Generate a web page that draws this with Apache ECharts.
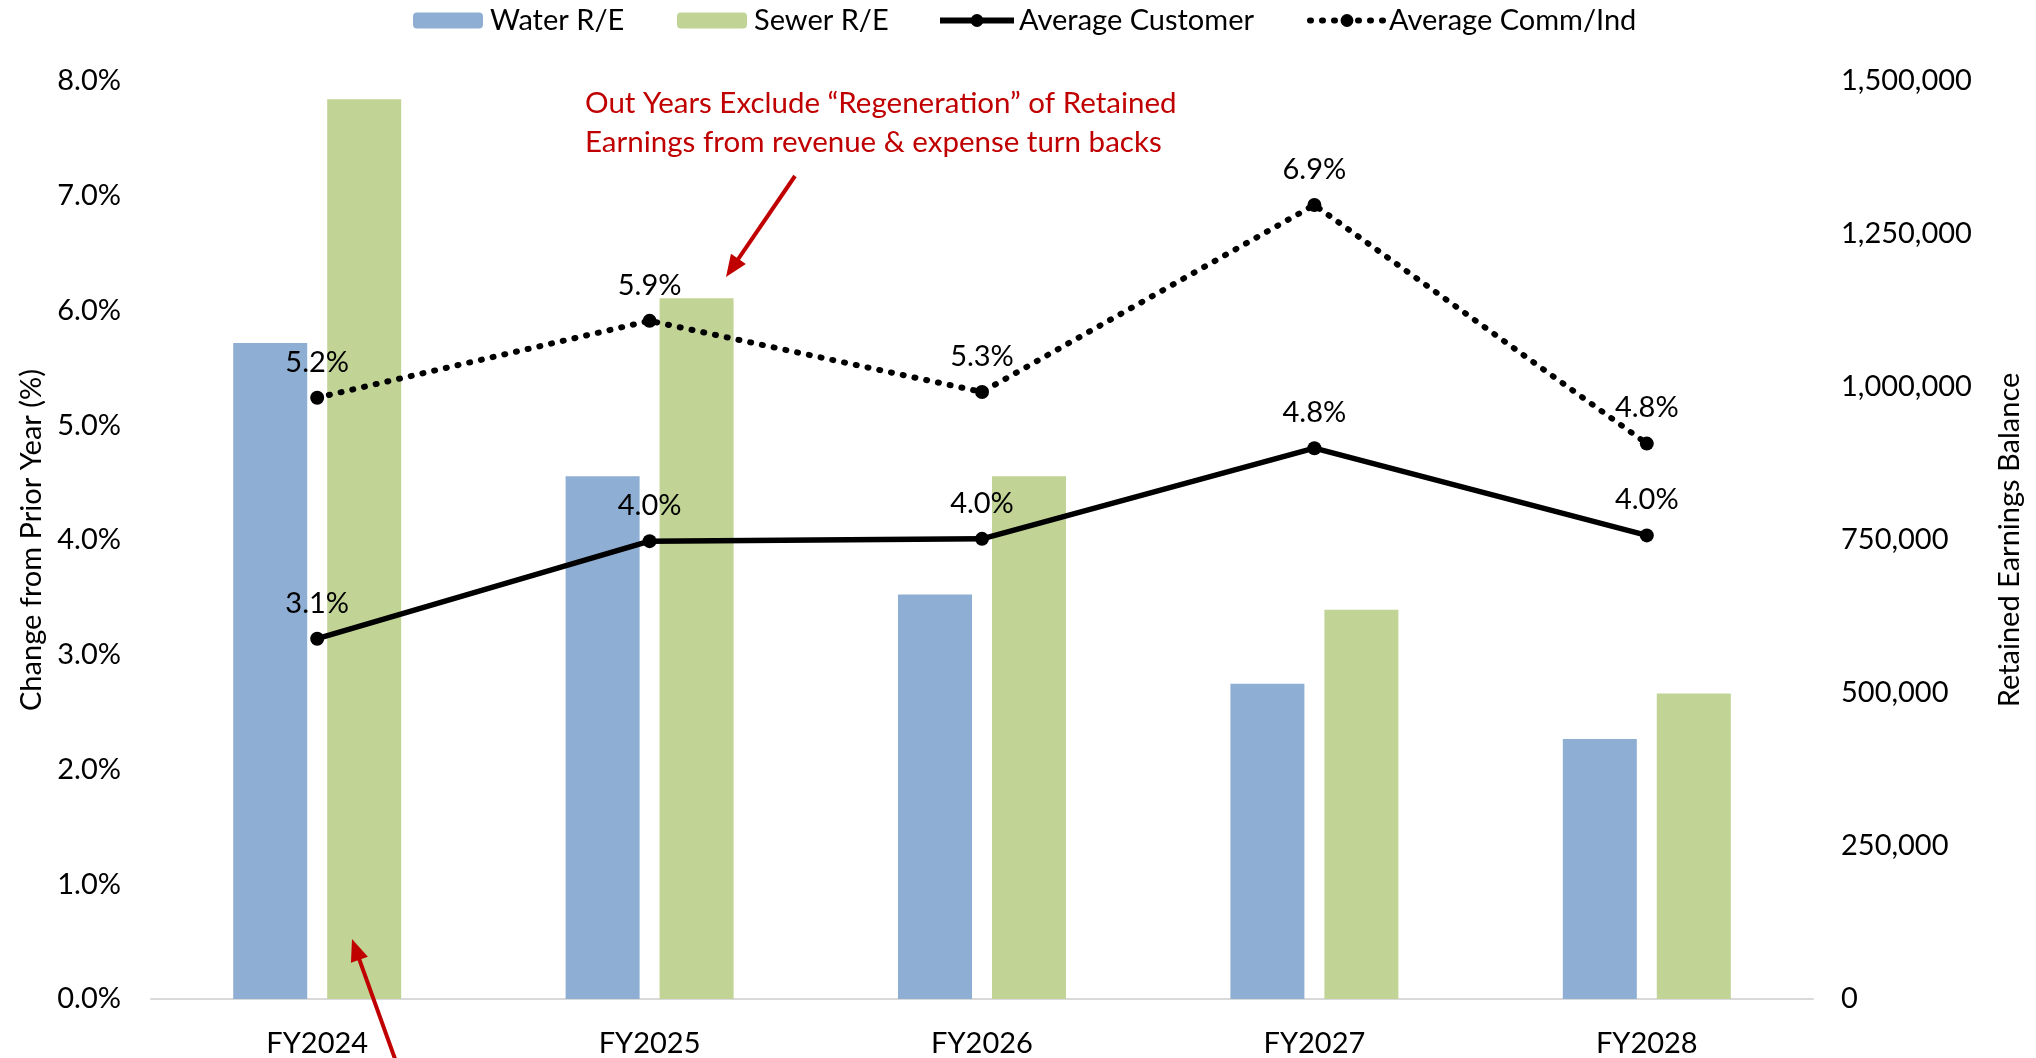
<!DOCTYPE html>
<html>
<head>
<meta charset="utf-8">
<script src="https://cdn.jsdelivr.net/npm/echarts@6/dist/echarts.min.js"></script>
<style>
html,body{margin:0;padding:0;background:#fff;}
#chart{width:2036px;height:1058px;}
</style>
</head>
<body>
<div id="chart"></div>
<script>
// ---- data ----
const categories = ['FY2024', 'FY2025', 'FY2026', 'FY2027', 'FY2028'];
const waterRE = [1072000, 854000, 661000, 515000, 425000];
const sewerRE = [1470000, 1145000, 854000, 636000, 499000];
const avgCustomer = [3.14, 3.99, 4.01, 4.80, 4.04];
const avgCommInd = [5.24, 5.91, 5.29, 6.92, 4.84];
const leftAxisTicks = { min: 0, max: 8, interval: 1 };
const rightAxisTicks = { min: 0, max: 1500000, interval: 250000 };
const seriesNames = ['Water R/E', 'Sewer R/E', 'Average Customer', 'Average Comm/Ind'];
const annotationText = 'Out Years Exclude \u201cRegeneration\u201d of Retained\nEarnings from revenue & expense turn backs';

// ---- styles ----
const FONT = 'Lato';
const FS = 29;
const RED = '#C00000';

const chart = echarts.init(document.getElementById('chart'), null, { renderer: 'canvas' });

function arrow(tail, tip, w, headLen, headW) {
  const dx = tip[0] - tail[0], dy = tip[1] - tail[1];
  const len = Math.sqrt(dx * dx + dy * dy);
  const ux = dx / len, uy = dy / len;
  const bx = tip[0] - ux * headLen, by = tip[1] - uy * headLen;
  const px = -uy, py = ux;
  return [
    { type: 'line', z: 100, shape: { x1: tail[0], y1: tail[1], x2: bx + ux * 2, y2: by + uy * 2 },
      style: { stroke: RED, lineWidth: w } },
    { type: 'polygon', z: 100, shape: { points: [tip, [bx + px * headW / 2, by + py * headW / 2], [bx - px * headW / 2, by - py * headW / 2]] },
      style: { fill: RED } }
  ];
}

const legendPos = [413, 677, 937, 1307];
const legends = seriesNames.map((n, i) => ({
  data: [n], left: legendPos[i], top: 6, padding: 0,
  itemWidth: i < 2 ? 70 : 74, itemHeight: 16, itemGap: 8,
  lineStyle: { width: 6 },
  textStyle: { fontFamily: FONT, fontSize: FS, color: '#000', padding: [0, 0, 0, i < 2 ? 2 : 0] }
}));

const labelStyle = {
  show: true, position: 'top', distance: 14,
  fontFamily: FONT, fontSize: FS, color: '#000',
  formatter: p => p.value.toFixed(1) + '%'
};

const option = {
  backgroundColor: '#fff',
  animation: false,
  legend: legends,
  grid: { left: 151, right: 223, top: 81, bottom: 57, containLabel: false },
  xAxis: {
    type: 'category', data: categories,
    axisLine: { show: true, lineStyle: { color: '#D9D9D9', width: 2 } },
    axisTick: { show: false },
    axisLabel: { fontFamily: FONT, fontSize: FS, color: '#000', margin: 30 }
  },
  yAxis: [
    {
      type: 'value', min: leftAxisTicks.min, max: leftAxisTicks.max, interval: leftAxisTicks.interval,
      name: 'Change from Prior Year (%)', nameLocation: 'middle', nameGap: 103,
      nameTextStyle: { fontFamily: FONT, fontSize: FS, color: '#000' },
      axisLine: { show: false }, axisTick: { show: false }, splitLine: { show: false },
      axisLabel: { fontFamily: FONT, fontSize: FS, color: '#000', margin: 30, formatter: v => v.toFixed(1) + '%' }
    },
    {
      type: 'value', min: rightAxisTicks.min, max: rightAxisTicks.max, interval: rightAxisTicks.interval,
      name: 'Retained Earnings Balance', nameLocation: 'middle', nameGap: 182, nameRotate: 90,
      nameTextStyle: { fontFamily: FONT, fontSize: FS, color: '#000' },
      axisLine: { show: false }, axisTick: { show: false }, splitLine: { show: false },
      axisLabel: { fontFamily: FONT, fontSize: FS, color: '#000', margin: 28,
        formatter: v => v.toLocaleString('en-US') }
    }
  ],
  series: [
    { name: seriesNames[0], type: 'bar', yAxisIndex: 1, data: waterRE, barWidth: 74, barGap: '27%',
      itemStyle: { color: '#8EAED4' }, z: 1 },
    { name: seriesNames[1], type: 'bar', yAxisIndex: 1, data: sewerRE, barWidth: 74, barGap: '27%',
      itemStyle: { color: '#C1D395' }, z: 1 },
    { name: seriesNames[2], type: 'line', yAxisIndex: 0, data: avgCustomer,
      symbol: 'circle', symbolSize: 14, itemStyle: { color: '#000' },
      lineStyle: { color: '#000', width: 5.5 }, label: labelStyle, z: 5 },
    { name: seriesNames[3], type: 'line', yAxisIndex: 0, data: avgCommInd,
      symbol: 'circle', symbolSize: 14, itemStyle: { color: '#000' },
      lineStyle: { color: '#000', width: 6, type: [1, 11], cap: 'round' }, label: labelStyle, z: 5 }
  ],
  graphic: [
    { type: 'text', left: 585, top: 84, z: 100,
      style: { text: annotationText, fontFamily: FONT, fontSize: 29.5, lineHeight: 39, fill: RED } },
    ...arrow([795, 176], [726, 277], 4, 22, 18),
    ...arrow([399, 1070], [352, 939], 4, 22, 18)
  ]
};
chart.setOption(option);
</script>
</body>
</html>
